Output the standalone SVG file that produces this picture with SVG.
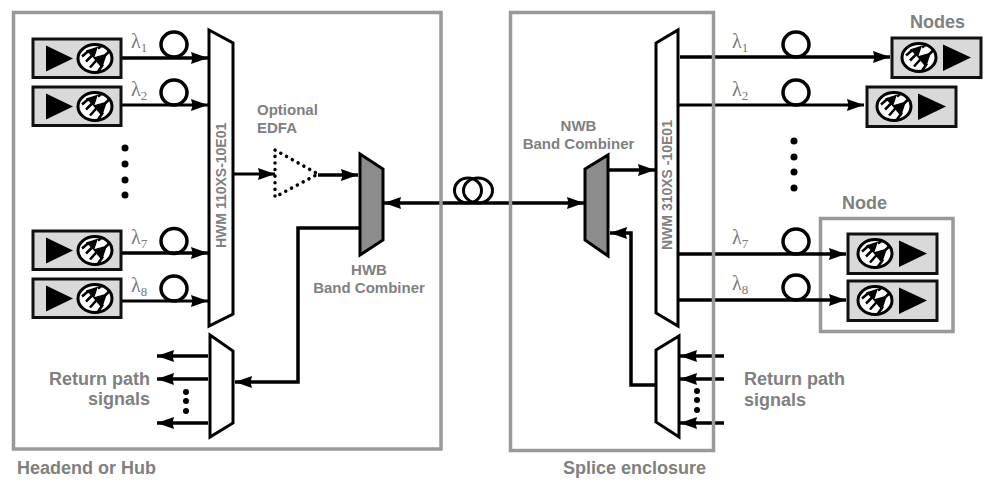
<svg xmlns="http://www.w3.org/2000/svg" width="987" height="481" viewBox="0 0 987 481">
<style>
.frame{fill:none;stroke:#999;stroke-width:3.5}
.unit{fill:#d8d9d8;stroke:#111;stroke-width:3}
.mux{fill:#fff;stroke:#000;stroke-width:3}
.band{fill:#8c8c8c;stroke:#000;stroke-width:3}
.line{fill:none;stroke:#000;stroke-width:3}
.thick{fill:none;stroke:#000;stroke-width:3.5}
.coil{fill:none;stroke:#000;stroke-width:3.5}
.coil2{fill:none;stroke:#000;stroke-width:3}
.lbl{font-family:"Liberation Sans",Arial,sans-serif;font-weight:700;font-size:15px;fill:#808080}
.big{font-size:18px}
.vert{font-size:14px}
.lam{font-family:"Liberation Serif","DejaVu Serif",serif;font-size:20px;fill:#777}
.sub{font-size:13px}
</style>
<defs>
<marker id="arr" markerUnits="userSpaceOnUse" markerWidth="18" markerHeight="14" refX="17" refY="6" orient="auto-start-reverse" viewBox="0 0 18 12"><path d="M0 0L17 6L0 12L1.500 6Z" fill="#000"/></marker>
<g id="diode">
<ellipse rx="17" ry="14" fill="#fff" stroke="#000" stroke-width="3"/>
<path d="M-9-8L3-12L-1 0ZM-2-1L12-5L7 10Z" fill="#000"/>
<path d="M-13-2L-6-8M-5 9L3 0M-9 3L-3-3M3 13L8 6M3-10L7-13M10-3L14-7" stroke="#000" stroke-width="2.500" fill="none"/>
</g>
<g id="tx"><rect x="0" y="0" width="88" height="38.500" class="unit"/><path d="M13 6.500L40 19.500L13 32.500Z" fill="#000"/><use href="#diode" x="62" y="19.500"/></g>
<g id="rx"><rect x="0" y="0" width="89" height="39.500" class="unit"/><use href="#diode" x="27" y="19.500"/><path d="M51 6.500L79 19.500L51 33Z" fill="#000"/></g>
</defs>
<rect width="987" height="481" fill="#fff"/>
<g id="frame-node"><rect x="820.500" y="218.500" width="132.500" height="113" class="frame"/></g>
<g id="connectors">
<path class="thick" d="M122 58H208" marker-end="url(#arr)"/>
<path class="line" d="M122 105H208" marker-end="url(#arr)"/>
<path class="thick" d="M122 253H208" marker-end="url(#arr)"/>
<path class="line" d="M122 301H208" marker-end="url(#arr)"/>
<path class="line" d="M233 174H275" marker-end="url(#arr)"/>
<path class="thick" d="M318 175H358" marker-end="url(#arr)"/>
<path class="thick" d="M384 203H584" marker-start="url(#arr)" marker-end="url(#arr)"/>
<path class="thick" d="M360 228H298V382H235" marker-end="url(#arr)"/>
<path class="thick" d="M208 356H157" marker-end="url(#arr)"/>
<path class="thick" d="M208 379H157" marker-end="url(#arr)"/>
<path class="thick" d="M208 423H157" marker-end="url(#arr)"/>
<path class="thick" d="M608 170H655" marker-end="url(#arr)"/>
<path class="thick" d="M656 385H631V233H610" marker-end="url(#arr)"/>
<path class="thick" d="M680 57H890" marker-end="url(#arr)"/>
<path class="line" d="M678 105H864" marker-end="url(#arr)"/>
<path class="thick" d="M678 254H846" marker-end="url(#arr)"/>
<path class="thick" d="M678 300H846" marker-end="url(#arr)"/>
<path class="thick" d="M724 356H680" marker-end="url(#arr)"/>
<path class="thick" d="M724 379H680" marker-end="url(#arr)"/>
<path class="thick" d="M724 423H680" marker-end="url(#arr)"/>
</g>
<g id="frame-headend"><rect x="13.500" y="12.500" width="427.500" height="436.500" class="frame"/></g>
<g id="frame-splice"><rect x="510.500" y="12.500" width="203" height="438" class="frame"/></g>
<g id="coils">
<ellipse class="coil" cx="174" cy="44.500" rx="13" ry="12.500"/><ellipse class="coil" cx="174" cy="92.500" rx="13" ry="12.500"/>
<ellipse class="coil" cx="174" cy="241" rx="13" ry="12.500"/><ellipse class="coil" cx="174" cy="288.500" rx="13" ry="12.500"/>
<ellipse class="coil" cx="796" cy="44.500" rx="13" ry="12.500"/><ellipse class="coil" cx="796" cy="92.500" rx="13" ry="12.500"/>
<ellipse class="coil" cx="796" cy="241.500" rx="13" ry="12.500"/><ellipse class="coil" cx="796" cy="287.500" rx="13" ry="12.500"/>
<ellipse class="coil2" cx="468" cy="190.500" rx="13.500" ry="12.500"/><ellipse class="coil2" cx="478" cy="190.500" rx="14.500" ry="12.500"/>
</g>
<g id="tx1"><use href="#tx" x="33" y="39"/><text class="lam" x="131" y="48">λ<tspan class="sub" dy="4">1</tspan></text></g>
<g id="tx2"><use href="#tx" x="33" y="87"/><text class="lam" x="131" y="96">λ<tspan class="sub" dy="4">2</tspan></text></g>
<g id="tx7"><use href="#tx" x="33" y="231"/><text class="lam" x="131" y="244">λ<tspan class="sub" dy="4">7</tspan></text></g>
<g id="tx8"><use href="#tx" x="33" y="279"/><text class="lam" x="131" y="292">λ<tspan class="sub" dy="4">8</tspan></text></g>
<g id="rx1"><use href="#rx" x="892" y="38"/><text class="lam" x="732" y="48">λ<tspan class="sub" dy="4">1</tspan></text></g>
<g id="rx2"><use href="#rx" x="867" y="87"/><text class="lam" x="732" y="96">λ<tspan class="sub" dy="4">2</tspan></text></g>
<g id="rx7"><use href="#rx" x="848" y="234"/><text class="lam" x="732" y="244">λ<tspan class="sub" dy="4">7</tspan></text></g>
<g id="rx8"><use href="#rx" x="848" y="281"/><text class="lam" x="732" y="290">λ<tspan class="sub" dy="4">8</tspan></text></g>
<g id="hwm"><path class="mux" d="M209 30L233 43V314L209 326Z"/><text class="lbl vert" transform="translate(226 248) rotate(-90)">HWM 110XS-10E01</text></g>
<g id="demux-left"><path class="mux" d="M210 335L233 351V423L210 437Z"/></g>
<g id="nwm"><path class="mux" d="M656 43L678 30V326L656 313Z"/><text class="lbl vert" transform="translate(672 250) rotate(-90)">NWM 310XS -10E01</text></g>
<g id="mux-right"><path class="mux" d="M656 350L679 336V437L656 422Z"/></g>
<g id="hwb"><path class="band" d="M360 154L383 169V240L360 255Z"/><text class="lbl" x="369" y="275" text-anchor="middle">HWB</text><text class="lbl" x="369" y="293" text-anchor="middle">Band Combiner</text></g>
<g id="nwb"><path class="band" d="M585 169L608 155V256L585 240Z"/><text class="lbl" x="578.500" y="131" text-anchor="middle">NWB</text><text class="lbl" x="578.500" y="149" text-anchor="middle">Band Combiner</text></g>
<g id="edfa"><path d="M275 150L318 174L275 197Z" fill="none" stroke="#000" stroke-width="3.500" stroke-linecap="round" stroke-dasharray="0.100 6.500"/><text class="lbl" x="257" y="115">Optional</text><text class="lbl" x="257" y="133">EDFA</text></g>
<g id="dots" fill="#000">
<circle cx="125" cy="148" r="3.500"/><circle cx="125" cy="164" r="3.500"/><circle cx="125" cy="180" r="3.500"/><circle cx="125" cy="195" r="3.500"/>
<circle cx="794" cy="141" r="3.500"/><circle cx="794" cy="157" r="3.500"/><circle cx="794" cy="172" r="3.500"/><circle cx="794" cy="188" r="3.500"/>
<circle cx="186" cy="392" r="3"/><circle cx="186" cy="401" r="3"/><circle cx="186" cy="411" r="3"/>
<circle cx="697" cy="391" r="3"/><circle cx="697" cy="400" r="3"/><circle cx="697" cy="410" r="3"/>
</g>
<g id="labels">
<text class="lbl big" x="150" y="385" text-anchor="end">Return path</text><text class="lbl big" x="150" y="405" text-anchor="end">signals</text>
<text class="lbl big" x="744" y="385">Return path</text><text class="lbl big" x="744" y="406">signals</text>
<text class="lbl big" x="17" y="474">Headend or Hub</text>
<text class="lbl big" x="563" y="474">Splice enclosure</text>
<text class="lbl big" x="910" y="28">Nodes</text>
<text class="lbl big" x="842" y="209">Node</text>
</g>
</svg>
